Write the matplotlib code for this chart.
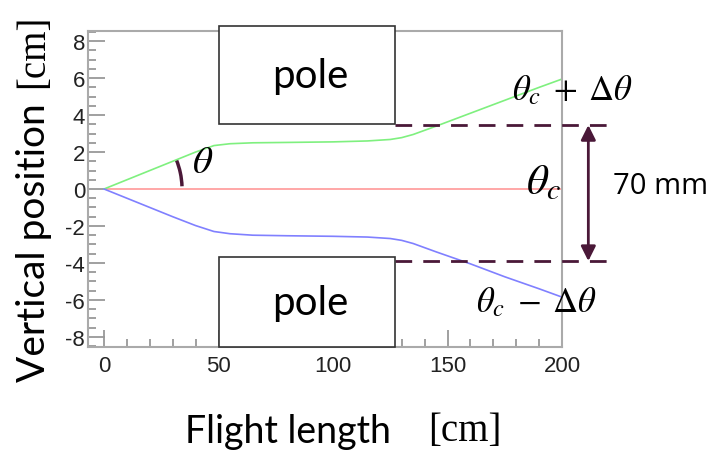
import numpy as np
import matplotlib.pyplot as plt
from matplotlib import transforms
from matplotlib.patches import Rectangle, Arc

plt.rcParams['mathtext.fontset'] = 'stix'
plt.rcParams['axes.unicode_minus'] = False

# flight length [cm] and vertical position [cm] of the three tracks
flight = [0, 10, 20, 30, 40, 48, 55, 65, 80, 100, 115, 125, 130, 135, 145, 160, 175, 190, 200]
track_plus = [0, 0.5, 1.0, 1.5, 2.0, 2.35, 2.45, 2.5, 2.52, 2.55, 2.6, 2.68, 2.78, 2.95, 3.4, 4.1, 4.8, 5.5, 5.95]
track_minus = [0, -0.5, -1.0, -1.5, -1.98, -2.3, -2.42, -2.5, -2.53, -2.56, -2.6, -2.68, -2.78, -2.95, -3.4, -4.05, -4.75, -5.4, -5.85]
track_center = [0, 200]

# pole pieces: (x start, x end) and (y bottom, y top)
pole_x = [50, 127]
pole_top_y = [3.5, 8.8]
pole_bot_y = [-8.55, -3.68]

# gap edges for the 70 mm marker
gap_top = 3.46
gap_bot = -3.9
gap_x = 211.5
dash_end = 224

W, H = 716, 456
fig = plt.figure(figsize=(W / 100, H / 100), dpi=100)
ax = fig.add_axes([88 / W, 1 - 348 / H, (562 - 88) / W, (348 - 32) / H])

def px(x, y):
    return x / W, 1 - y / H

ax.plot(track_center, [0, 0], color='#ffa0a0', lw=1.3)
ax.plot(flight, track_plus, color='#7ff07f', lw=1.2)
ax.plot(flight, track_minus, color='#8080ff', lw=1.2)

ax.set_xlim(-7, 200)
ax.set_ylim(-8.55, 8.55)
ax.set_xticks([0, 50, 100, 150, 200])
ax.set_xticks(np.arange(0, 201, 10), minor=True)
ax.set_yticks(np.arange(-8, 9, 2))
ax.set_yticks(np.arange(-8.5, 8.6, 0.5), minor=True)

for s in ax.spines.values():
    s.set_color('#aaaaaa')
    s.set_linewidth(1.5)
ax.tick_params(which='both', direction='in', color='#999999', width=1.3,
               top=False, right=False, labelcolor='#222222')
ax.tick_params(which='major', length=12)
ax.tick_params(which='minor', length=6)
ax.tick_params(axis='x', pad=6)
ax.tick_params(axis='y', pad=2)
for lab in ax.get_xticklabels() + ax.get_yticklabels():
    lab.set_fontfamily(['Liberation Sans Narrow', 'Liberation Sans', 'DejaVu Sans'])
    lab.set_fontsize(16)

# pole boxes
dark = '#4a1838'
for y0, y1 in (pole_top_y, pole_bot_y):
    ax.add_patch(Rectangle((pole_x[0], y0), pole_x[1] - pole_x[0], y1 - y0,
                           facecolor='white', edgecolor='#333333', lw=1.2,
                           clip_on=False, zorder=5))
    ax.text(np.mean(pole_x) + 1.5, (y0 + y1) / 2, 'pole', ha='center', va='center',
            fontsize=29, family='Lato', zorder=6)

# gap edges and 70 mm arrow
for gy in (gap_top, gap_bot):
    ax.plot([pole_x[1], dash_end], [gy, gy], color=dark, lw=2,
            dashes=(6, 4), clip_on=False, zorder=4)
ax.annotate('', xy=(gap_x, gap_top), xytext=(gap_x, gap_bot),
            arrowprops=dict(arrowstyle='<|-|>', color=dark, lw=2,
                            mutation_scale=22, shrinkA=0, shrinkB=0),
            annotation_clip=False)

# opening angle arc, drawn in inches around the origin
arc_trans = fig.dpi_scale_trans + transforms.ScaledTranslation(0, 0, ax.transData)
ax.add_patch(Arc((0, 0), 1.56, 1.56, theta1=2, theta2=22, color=dark, lw=2.5,
                 transform=arc_trans, clip_on=False))

fig.text(*px(203, 162), r'$\theta$', fontsize=28, ha='center', va='center')
fig.text(*px(544, 182), r'$\theta_c$', fontsize=31, ha='center', va='center')
fig.text(*px(573, 90), r'$\theta_c\;+\;\Delta\theta$', fontsize=25, ha='center', va='center')
fig.text(*px(537, 302), r'$\theta_c\;-\;\Delta\theta$', fontsize=25, ha='center', va='center')
fig.text(*px(661, 186), '70 mm', fontsize=21, family='Open Sans', ha='center', va='center')

# axis titles
fig.text(*px(34, 243), 'Vertical position', rotation=90, fontsize=28, family='Lato',
         ha='center', va='center')
fig.text(*px(34, 51), '[cm]', rotation=90, fontsize=28, family='Liberation Serif',
         ha='center', va='center')
fig.text(*px(288, 432), 'Flight length', fontsize=27, family='Lato',
         ha='center', va='center')
fig.text(*px(465, 432), '[cm]', fontsize=28, family='Liberation Serif',
         ha='center', va='center')

fig.savefig('out.png', dpi=100)
